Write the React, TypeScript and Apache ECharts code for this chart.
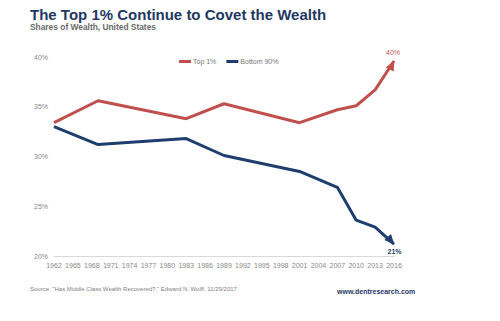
import React, { useEffect, useRef } from "react";
import * as echarts from "echarts";

const years = [1962, 1969, 1983, 1989, 2001, 2007, 2010, 2013, 2016];
const top1 = [33.4, 35.6, 33.8, 35.3, 33.4, 34.7, 35.1, 36.7, 39.6];
const bottom90 = [33.0, 31.2, 31.8, 30.1, 28.5, 26.9, 23.6, 22.9, 21.2];
const seriesNames = ["Top 1%", "Bottom 90%"];
const titleText = "The Top 1% Continue to Covet the Wealth";
const subtitleText = "Shares of Wealth, United States";
const sourceText = 'Source: "Has Middle Class Wealth Recovered?," Edward N. Wolff, 11/29/2017';
const siteText = "www.dentresearch.com";

const RED = "#c0504d";
const BLUE = "#1f3d6d";
const FONT = "Liberation Sans, Arial, sans-serif";

function buildData(
  vals: number[],
  rotate: number,
  symOffset: number[],
  color: string,
  labelOffset: number[],
  bold: boolean
) {
  return vals.map((v, i) => {
    const item: any = { value: [years[i], v] };
    if (i === vals.length - 1) {
      item.symbol = "triangle";
      item.symbolSize = [9, 10];
      item.symbolRotate = rotate;
      item.symbolOffset = symOffset;
      item.itemStyle = { color };
      item.label = {
        show: true,
        position: "inside",
        offset: labelOffset,
        formatter: (p: any) => Math.round(p.value[1]) + "%",
        color,
        fontSize: 7,
        fontWeight: bold ? "bold" : "normal",
        fontFamily: FONT,
      };
    } else {
      item.symbol = "none";
    }
    return item;
  });
}

export default function App() {
  const ref = useRef<HTMLDivElement>(null);
  useEffect(() => {
    document.body.style.margin = "0";
    if (!ref.current) return;
    const chart = echarts.init(ref.current, undefined, { renderer: "svg" });
    chart.setOption({
      animation: false,
      backgroundColor: "#ffffff",
      textStyle: { fontFamily: FONT },
      grid: { left: 54, right: 106, top: 57, bottom: 65 },
      legend: {
        left: 174,
        top: 53,
        icon: "rect",
        itemWidth: 12,
        itemHeight: 3,
        itemGap: 10,
        textStyle: { fontSize: 7, color: "#777", fontFamily: FONT, padding: [0, 0, 0, -3] },
        data: seriesNames,
      },
      xAxis: {
        type: "value",
        min: 1962,
        max: 2016,
        interval: 3,
        axisLine: { show: true, lineStyle: { color: "#d9d9d9", width: 1 } },
        axisTick: { show: false },
        splitLine: { show: false },
        axisLabel: {
          fontSize: 7,
          color: "#888",
          margin: 6,
          fontFamily: FONT,
          formatter: (v: number) => String(v),
        },
      },
      yAxis: {
        type: "value",
        min: 20,
        max: 40,
        interval: 5,
        axisLine: { show: false },
        axisTick: { show: false },
        splitLine: { show: false },
        axisLabel: { fontSize: 7, color: "#888", margin: 6, formatter: "{value}%", fontFamily: FONT },
      },
      series: [
        {
          name: seriesNames[0],
          type: "line",
          showSymbol: true,
          lineStyle: { color: RED, width: 3 },
          itemStyle: { color: RED },
          data: buildData(top1, -27, [-2, 4], RED, [1, -12], false),
          z: 3,
        },
        {
          name: seriesNames[1],
          type: "line",
          showSymbol: true,
          lineStyle: { color: BLUE, width: 3 },
          itemStyle: { color: BLUE },
          data: buildData(bottom90, -138, [-3, -3.3], BLUE, [3.5, 10.5], true),
          z: 2,
        },
      ],
      graphic: [
        {
          type: "text",
          left: 30,
          top: 7,
          style: { text: titleText, font: `bold 15px ${FONT}`, fill: "#1f3864" },
        },
        {
          type: "text",
          left: 30,
          top: 23,
          style: { text: subtitleText, font: `bold 8.4px ${FONT}`, fill: "#6b6b6b" },
        },
        {
          type: "text",
          left: 30,
          top: 286,
          style: { text: sourceText, font: `6px ${FONT}`, fill: "#808080" },
        },
        {
          type: "text",
          left: 337,
          top: 288,
          style: { text: siteText, font: `bold 7px ${FONT}`, fill: "#1f3864" },
        },
      ],
    });
    return () => chart.dispose();
  }, []);
  return <div ref={ref} style={{ width: 500, height: 321 }} />;
}
